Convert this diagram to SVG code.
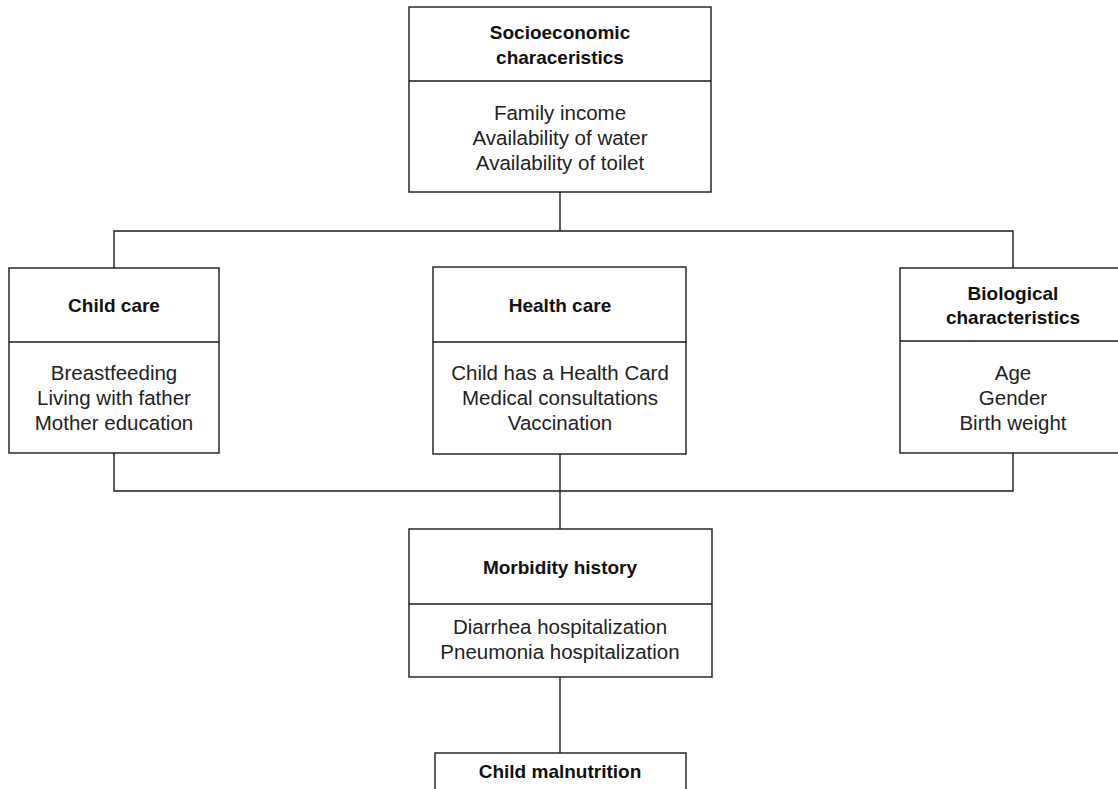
<svg xmlns="http://www.w3.org/2000/svg" width="1118" height="789" viewBox="0 0 1118 789">
<style>
.box{fill:#fff;stroke:#1a1a1a;stroke-width:1.4}
.div{stroke:#1a1a1a;stroke-width:1.4}
.con{fill:none;stroke:#1a1a1a;stroke-width:1.4}
.t{font-family:"Liberation Sans",Arial,sans-serif;font-size:19px;font-weight:bold;fill:#111;text-anchor:middle}
.b{font-family:"Liberation Sans",Arial,sans-serif;font-size:20.5px;fill:#222;text-anchor:middle}
</style>
<rect width="1118" height="789" fill="#fff"/>
<g id="connectors">
<path class="con" d="M560 192 V231 M114 268 V231 H1013 V268"/>
<path class="con" d="M114 453 V491 H1013 V453 M560 454 V529"/>
<path class="con" d="M560 677 V753"/>
</g>
<g id="socioeconomic">
<rect class="box" x="409" y="7" width="302" height="185"/>
<line class="div" x1="409" y1="81" x2="711" y2="81"/>
<text class="t" x="560" y="39">Socioeconomic</text>
<text class="t" x="560" y="64">characeristics</text>
<text class="b" x="560" y="120">Family income</text>
<text class="b" x="560" y="145">Availability of water</text>
<text class="b" x="560" y="170">Availability of toilet</text>
</g>
<g id="childcare">
<rect class="box" x="9" y="268" width="210" height="185"/>
<line class="div" x1="9" y1="342" x2="219" y2="342"/>
<text class="t" x="114" y="312">Child care</text>
<text class="b" x="114" y="380">Breastfeeding</text>
<text class="b" x="114" y="405">Living with father</text>
<text class="b" x="114" y="430">Mother education</text>
</g>
<g id="healthcare">
<rect class="box" x="433" y="267" width="253" height="187"/>
<line class="div" x1="433" y1="342" x2="686" y2="342"/>
<text class="t" x="560" y="312">Health care</text>
<text class="b" x="560" y="380">Child has a Health Card</text>
<text class="b" x="560" y="405">Medical consultations</text>
<text class="b" x="560" y="430">Vaccination</text>
</g>
<g id="biological">
<rect class="box" x="900" y="268" width="226" height="185"/>
<line class="div" x1="900" y1="341" x2="1126" y2="341"/>
<text class="t" x="1013" y="300">Biological</text>
<text class="t" x="1013" y="324">characteristics</text>
<text class="b" x="1013" y="380">Age</text>
<text class="b" x="1013" y="405">Gender</text>
<text class="b" x="1013" y="430">Birth weight</text>
</g>
<g id="morbidity">
<rect class="box" x="409" y="529" width="303" height="148"/>
<line class="div" x1="409" y1="604" x2="712" y2="604"/>
<text class="t" x="560" y="574">Morbidity history</text>
<text class="b" x="560" y="634">Diarrhea hospitalization</text>
<text class="b" x="560" y="659">Pneumonia hospitalization</text>
</g>
<g id="malnutrition">
<rect class="box" x="435" y="753" width="251" height="60"/>
<text class="t" x="560" y="778">Child malnutrition</text>
</g>
</svg>
